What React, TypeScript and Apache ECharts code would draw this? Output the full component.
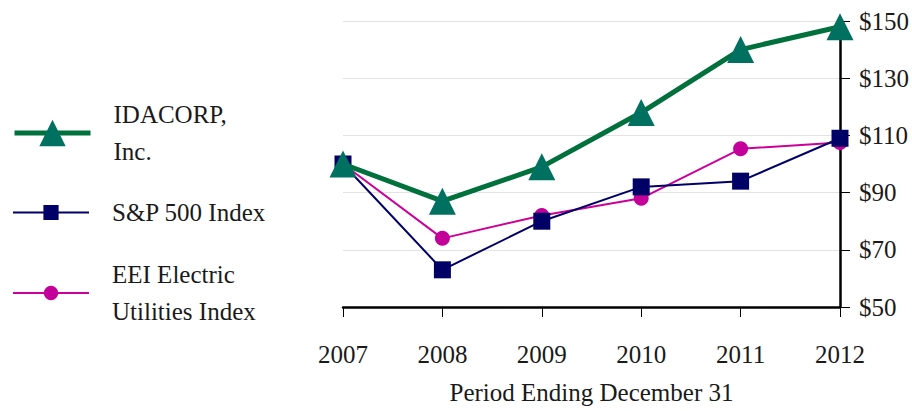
import React, { useEffect, useRef } from "react";
import * as echarts from "echarts";

const years = ["2007", "2008", "2009", "2010", "2011", "2012"];
const idacorp = [100, 87, 99, 118, 140, 148];
const sp500 = [100, 63, 80, 92, 94, 109];
const eei = [100, 74, 82, 88, 105.3, 107.5];
const yTicks = [50, 70, 90, 110, 130, 150];
const seriesNames = ["IDACORP, Inc.", "S&P 500 Index", "EEI Electric Utilities Index"];
const legendLabels = ["IDACORP,\nInc.", "S&P 500 Index", "EEI Electric\nUtilities Index"];

const FONT = "'Liberation Serif', 'DejaVu Serif', serif";
const TEXT = "#1a1a1a";

export default function App() {
  const ref = useRef<HTMLDivElement>(null);
  useEffect(() => {
    if (!ref.current) return;
    const chart = echarts.init(ref.current, undefined, { renderer: "svg" });
    const legendBase = {
      orient: "vertical",
      left: 7,
      itemWidth: 76,
      formatter: (name: string) => legendLabels[seriesNames.indexOf(name)],
      lineStyle: { width: "inherit" },
      textStyle: {
        fontFamily: FONT,
        fontSize: 25,
        color: TEXT,
        lineHeight: 37,
        padding: [0, 0, 0, 18],
      },
    };
    chart.setOption({
      animation: false,
      backgroundColor: "#ffffff",
      textStyle: { fontFamily: FONT },
      legend: [
        { ...legendBase, top: 91, itemHeight: 33, data: [seriesNames[0]] },
        { ...legendBase, top: 189, itemHeight: 19, data: [seriesNames[1]] },
        { ...legendBase, top: 251, itemHeight: 18, data: [seriesNames[2]] },
      ],
      grid: { left: 343, right: 72, top: 21, bottom: 104 },
      xAxis: {
        type: "category",
        data: years,
        boundaryGap: false,
        axisLine: { show: true, lineStyle: { color: "#000", width: 2.5 } },
        axisTick: { show: true, length: 10, alignWithLabel: true, lineStyle: { color: "#000", width: 1 } },
        axisLabel: { fontFamily: FONT, fontSize: 25, color: TEXT, margin: 35 },
        name: "Period Ending December 31",
        nameLocation: "middle",
        nameGap: 73,
        nameTextStyle: { fontFamily: FONT, fontSize: 25, color: TEXT },
        splitLine: { show: false },
      },
      yAxis: {
        type: "value",
        position: "right",
        min: 50,
        max: 150,
        interval: 20,
        axisLine: { show: true, lineStyle: { color: "#000", width: 2.5 } },
        axisTick: { show: true, length: 10, inside: false, lineStyle: { color: "#000", width: 1 } },
        axisLabel: {
          fontFamily: FONT,
          fontSize: 25,
          color: TEXT,
          margin: 19,
          formatter: (v: number) => (yTicks.includes(v) ? "$" + v : ""),
        },
        splitLine: { show: true, lineStyle: { color: "#e3e3e3", width: 1 } },
      },
      series: [
        {
          name: seriesNames[0],
          type: "line",
          data: idacorp,
          z: 4,
          symbol: "triangle",
          symbolSize: 27,
          lineStyle: { color: "#00703c", width: 5 },
          itemStyle: { color: "#007060" },
        },
        {
          name: seriesNames[1],
          type: "line",
          data: sp500,
          z: 3,
          symbol: "rect",
          symbolSize: 17,
          lineStyle: { color: "#000066", width: 2 },
          itemStyle: { color: "#000066" },
        },
        {
          name: seriesNames[2],
          type: "line",
          data: eei,
          z: 2,
          symbol: "circle",
          symbolSize: 15,
          lineStyle: { color: "#cc0099", width: 2 },
          itemStyle: { color: "#c4009a" },
        },
      ],
    });
    return () => chart.dispose();
  }, []);
  return (
    <div
      ref={ref}
      style={{ position: "absolute", left: 0, top: 0, width: 912, height: 411 }}
    />
  );
}
